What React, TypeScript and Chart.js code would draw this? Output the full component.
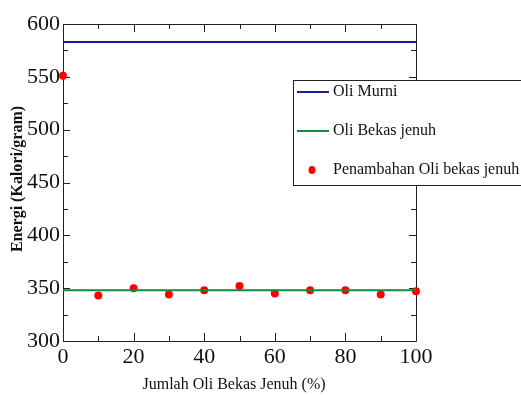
import React, { useEffect, useRef } from "react";
import { Chart, registerables } from "chart.js";

Chart.register(...registerables);

// ---- data ----
const xValues = [0, 10, 20, 30, 40, 50, 60, 70, 80, 90, 100];
const penambahanValues = [551, 343, 350, 344, 348, 352, 345, 348, 348, 344, 347];
const oliMurniValue = 583;
const oliBekasValue = 348;
const lineXRange = [0, 100];
const seriesLabels = ["Oli Murni", "Oli Bekas jenuh", "Penambahan Oli bekas jenuh"];
const xTitle = "Jumlah Oli Bekas Jenuh (%)";
const yTitle = "Energi (Kalori/gram)";

const FONT = "'Liberation Serif', 'Times New Roman', serif";
const BLUE = "#1b1b9e";
const GREEN = "#138a40";
const RED = "#ff0000";

const framePlugin = {
  id: "frame",
  beforeDatasetsDraw(chart: any) {
    const { ctx, chartArea } = chart;
    const xs = chart.scales.x;
    const ys = chart.scales.y;
    const { left, right, top, bottom } = chartArea;
    ctx.save();
    ctx.strokeStyle = "#222";
    ctx.lineWidth = 1;
    ctx.beginPath();
    ctx.rect(Math.round(left) + 0.5, Math.round(top) + 0.5, Math.round(right - left), Math.round(bottom - top));
    ctx.stroke();
    ctx.beginPath();
    for (let v = 0; v <= 100; v += 10) {
      const px = Math.round(xs.getPixelForValue(v)) + 0.5;
      const len = v % 20 === 0 ? 8 : 5;
      ctx.moveTo(px, bottom);
      ctx.lineTo(px, bottom - len);
      ctx.moveTo(px, top);
      ctx.lineTo(px, top + len);
    }
    for (let v = 300; v <= 600; v += 25) {
      const py = Math.round(ys.getPixelForValue(v)) + 0.5;
      const len = v % 50 === 0 ? 7 : 5;
      ctx.moveTo(left, py);
      ctx.lineTo(left + len, py);
      ctx.moveTo(right, py);
      ctx.lineTo(right - len, py);
    }
    ctx.stroke();
    ctx.restore();
  },
  afterDraw(chart: any) {
    const { ctx } = chart;
    ctx.save();
    // axis titles
    ctx.fillStyle = "#111";
    ctx.font = `16px ${FONT}`;
    ctx.textAlign = "center";
    ctx.textBaseline = "middle";
    ctx.fillText(xTitle, 234, 385);
    ctx.save();
    ctx.translate(18, 179);
    ctx.rotate(-Math.PI / 2);
    ctx.font = `bold 16px ${FONT}`;
    ctx.fillText(yTitle, 0, 0);
    ctx.restore();

    // legend box
    const bx = 293.5, by = 80.5, bw = 240, bh = 105;
    ctx.fillStyle = "#ffffff";
    ctx.fillRect(bx, by, bw, bh);
    ctx.strokeStyle = "#222";
    ctx.lineWidth = 1;
    ctx.strokeRect(bx, by, bw, bh);
    const ds = chart.data.datasets;
    const rows = [92, 131, 170];
    ctx.font = `16px ${FONT}`;
    ctx.textAlign = "left";
    ctx.textBaseline = "middle";
    ds.forEach((d: any, i: number) => {
      const y = rows[i];
      if (i < 2) {
        ctx.strokeStyle = d.borderColor;
        ctx.lineWidth = 2;
        ctx.beginPath();
        ctx.moveTo(297, y);
        ctx.lineTo(329, y);
        ctx.stroke();
      } else {
        ctx.fillStyle = d.backgroundColor;
        ctx.beginPath();
        ctx.ellipse(312, y, 3.5, 4, 0, 0, Math.PI * 2);
        ctx.fill();
      }
      ctx.fillStyle = "#111";
      ctx.fillText(d.label, 333, y);
    });
    ctx.restore();
  },
};

export default function App() {
  const ref = useRef<HTMLCanvasElement>(null);
  useEffect(() => {
    if (!ref.current) return;
    const chart = new Chart(ref.current, {
      type: "scatter",
      data: {
        datasets: [
          {
            label: seriesLabels[0],
            data: lineXRange.map((x) => ({ x, y: oliMurniValue })),
            showLine: true,
            borderColor: BLUE,
            backgroundColor: BLUE,
            borderWidth: 2,
            pointRadius: 0,
          },
          {
            label: seriesLabels[1],
            data: lineXRange.map((x) => ({ x, y: oliBekasValue })),
            showLine: true,
            borderColor: GREEN,
            backgroundColor: GREEN,
            borderWidth: 2,
            pointRadius: 0,
          },
          {
            label: seriesLabels[2],
            data: xValues.map((x, i) => ({ x, y: penambahanValues[i] })),
            showLine: false,
            borderColor: RED,
            backgroundColor: RED,
            borderWidth: 0,
            pointRadius: 4,
            clip: false,
          } as any,
        ],
      },
      options: {
        animation: false,
        responsive: false,
        layout: { padding: { left: 0, right: 105, top: 24, bottom: 0 } },
        plugins: { legend: { display: false }, tooltip: { enabled: false } },
        scales: {
          x: {
            type: "linear",
            min: 0,
            max: 100,
            border: { display: false },
            grid: { display: false, drawTicks: false },
            ticks: { stepSize: 20, padding: 3, color: "#111", font: { family: FONT, size: 22 } },
            afterFit: (s: any) => { s.height = 55; },
          },
          y: {
            type: "linear",
            min: 300,
            max: 600,
            border: { display: false },
            grid: { display: false, drawTicks: false },
            ticks: { stepSize: 50, padding: 3, color: "#111", font: { family: FONT, size: 22 } },
            afterFit: (s: any) => { s.width = 63; },
          },
        },
      },
      plugins: [framePlugin],
    });
    return () => chart.destroy();
  }, []);
  return (
    <div style={{ position: "absolute", left: 0, top: 0, width: 521, height: 396, background: "#fff" }}>
      <canvas ref={ref} width={521} height={396} />
    </div>
  );
}
